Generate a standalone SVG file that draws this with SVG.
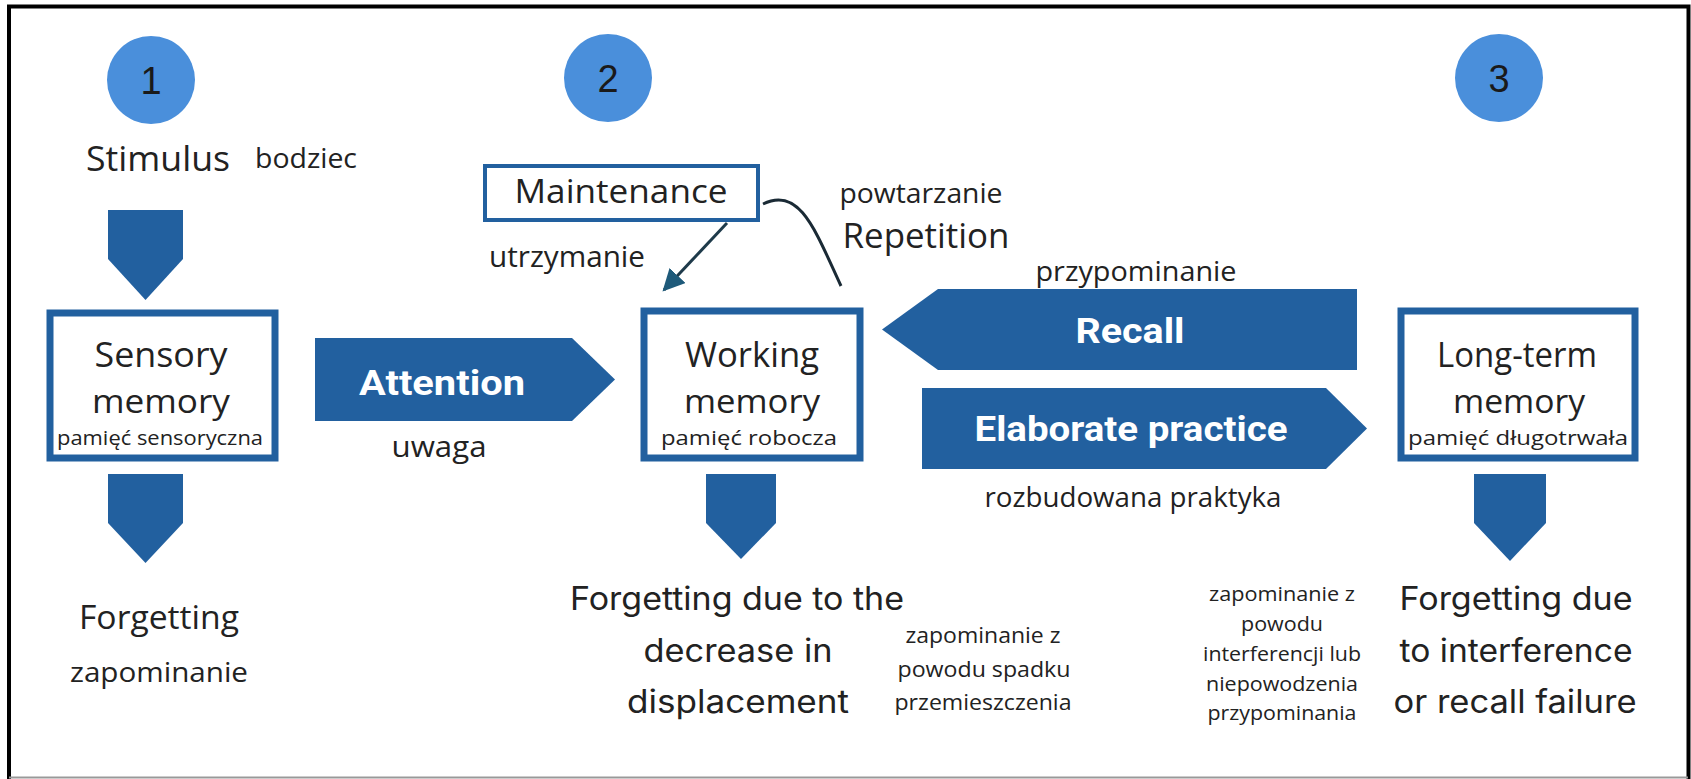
<svg xmlns="http://www.w3.org/2000/svg" width="1691" height="779" viewBox="0 0 1691 779">
<style>
.box{fill:#fff;stroke:#22609f;stroke-width:7}
.blk{fill:#22609f}
.circ{fill:#4a8fdb}
.num{font-family:"Liberation Sans",Arial,sans-serif;font-size:38px;fill:#1a1a1a;text-anchor:middle}
.t{font-family:"Open Sans","Noto Sans",sans-serif;fill:#222;text-anchor:middle}
.f{font-family:Inter,"Liberation Sans",sans-serif;fill:#222;text-anchor:middle}
.w{font-family:Roboto,"Liberation Sans",sans-serif;font-weight:bold;fill:#fff;text-anchor:middle}
</style>
<defs>
<marker id="ah" viewBox="0 0 10 10" refX="9" refY="5" markerWidth="22" markerHeight="22" orient="auto" markerUnits="userSpaceOnUse">
<path d="M0,0 L10,5 L0,10 z" fill="#1e5a7a"/>
</marker>
</defs>
<rect x="0" y="0" width="1691" height="779" fill="#fff"/>
<path d="M9,779 V6.5 H1688.5 V779" fill="none" stroke="#000" stroke-width="4"/>
<line x1="9" y1="777.5" x2="1688" y2="777.5" stroke="#999" stroke-width="2"/>

<g id="circle1"><circle class="circ" cx="151" cy="80" r="44"/><text class="num" x="151" y="94">1</text></g>
<g id="circle2"><circle class="circ" cx="608" cy="78" r="44"/><text class="num" x="608" y="92">2</text></g>
<g id="circle3"><circle class="circ" cx="1499" cy="78" r="44"/><text class="num" x="1499" y="92">3</text></g>

<g id="stimulus">
<text class="t" x="158" y="170.5" font-size="35" textLength="144" lengthAdjust="spacingAndGlyphs">Stimulus</text>
<text class="t" x="306" y="168" font-size="27" textLength="102" lengthAdjust="spacingAndGlyphs">bodziec</text>
</g>

<g id="sensory">
<rect class="box" x="50" y="313" width="225" height="145"/>
<text class="t" x="161" y="366.5" font-size="35" textLength="133" lengthAdjust="spacingAndGlyphs">Sensory</text>
<text class="t" x="161" y="413" font-size="33" textLength="138" lengthAdjust="spacingAndGlyphs">memory</text>
<text class="t" x="160" y="445" font-size="20" textLength="206" lengthAdjust="spacingAndGlyphs">pamięć sensoryczna</text>
</g>

<g id="maintenance">
<rect x="485" y="166" width="273" height="54" fill="#fff" stroke="#22609f" stroke-width="4"/>
<text class="t" x="621" y="203" font-size="33" textLength="213" lengthAdjust="spacingAndGlyphs">Maintenance</text>
</g>

<g id="working">
<rect class="box" x="644" y="311" width="216" height="147"/>
<text class="t" x="752" y="366.5" font-size="35" textLength="134" lengthAdjust="spacingAndGlyphs">Working</text>
<text class="t" x="752" y="413" font-size="33" textLength="136" lengthAdjust="spacingAndGlyphs">memory</text>
<text class="t" x="749" y="445" font-size="20" textLength="176" lengthAdjust="spacingAndGlyphs">pamięć robocza</text>
</g>

<g id="longterm">
<rect class="box" x="1401" y="311" width="234" height="147"/>
<text class="t" x="1517" y="366.5" font-size="35" textLength="160" lengthAdjust="spacingAndGlyphs">Long-term</text>
<text class="t" x="1519" y="413" font-size="33" textLength="132" lengthAdjust="spacingAndGlyphs">memory</text>
<text class="t" x="1518" y="445" font-size="20" textLength="220" lengthAdjust="spacingAndGlyphs">pamięć długotrwała</text>
</g>

<g id="forget1">
<text class="t" x="159" y="629" font-size="33" textLength="160" lengthAdjust="spacingAndGlyphs">Forgetting</text>
<text class="t" x="159" y="681.5" font-size="28" textLength="178" lengthAdjust="spacingAndGlyphs">zapominanie</text>
</g>

<g id="forget2">
<text class="f" x="737" y="610" font-size="32" textLength="334" lengthAdjust="spacingAndGlyphs">Forgetting due to the</text>
<text class="f" x="738" y="662" font-size="32" textLength="189" lengthAdjust="spacingAndGlyphs">decrease in</text>
<text class="f" x="738" y="713" font-size="32" textLength="222" lengthAdjust="spacingAndGlyphs">displacement</text>
<text class="t" x="983" y="643" font-size="22" textLength="155" lengthAdjust="spacingAndGlyphs">zapominanie z</text>
<text class="t" x="984" y="677" font-size="22" textLength="173" lengthAdjust="spacingAndGlyphs">powodu spadku</text>
<text class="t" x="983" y="710" font-size="22" textLength="177" lengthAdjust="spacingAndGlyphs">przemieszczenia</text>
</g>

<g id="forget3">
<text class="f" x="1516" y="610" font-size="32" textLength="233" lengthAdjust="spacingAndGlyphs">Forgetting due</text>
<text class="f" x="1516" y="662" font-size="32" textLength="233" lengthAdjust="spacingAndGlyphs">to interference</text>
<text class="f" x="1515" y="713" font-size="32" textLength="243" lengthAdjust="spacingAndGlyphs">or recall failure</text>
<text class="t" x="1282" y="601" font-size="20" textLength="146" lengthAdjust="spacingAndGlyphs">zapominanie z</text>
<text class="t" x="1282" y="631" font-size="20" textLength="82" lengthAdjust="spacingAndGlyphs">powodu</text>
<text class="t" x="1282" y="661" font-size="20" textLength="158" lengthAdjust="spacingAndGlyphs">interferencji lub</text>
<text class="t" x="1282" y="691" font-size="20" textLength="152" lengthAdjust="spacingAndGlyphs">niepowodzenia</text>
<text class="t" x="1282" y="720" font-size="20" textLength="149" lengthAdjust="spacingAndGlyphs">przypominania</text>
</g>

<g id="connectors">
<polygon class="blk" points="108,210 183,210 183,259 145.5,300 108,259"/>
<polygon class="blk" points="108,474 183,474 183,523 145.5,563 108,523"/>
<polygon class="blk" points="706,474 776,474 776,523 741,559 706,523"/>
<polygon class="blk" points="1474,474 1546,474 1546,523 1510,561 1474,523"/>
<polygon class="blk" points="315,338 572,338 615,379.5 572,421 315,421"/>
<polygon class="blk" points="1357,289 938,289 882,329.5 938,370 1357,370"/>
<polygon class="blk" points="922,388 1326,388 1367,428.5 1326,469 922,469"/>
<line x1="727" y1="223" x2="664" y2="290" stroke="#1e3a4a" stroke-width="3" marker-end="url(#ah)"/>
<path d="M763,204 C800,186 815,230 841,286" fill="none" stroke="#1a2a35" stroke-width="3"/>
</g>

<g id="labels">
<text class="w" x="442" y="395" font-size="35" textLength="166" lengthAdjust="spacingAndGlyphs">Attention</text>
<text class="t" x="439" y="457" font-size="30" textLength="95" lengthAdjust="spacingAndGlyphs">uwaga</text>
<text class="t" x="567" y="266.5" font-size="29" textLength="156" lengthAdjust="spacingAndGlyphs">utrzymanie</text>
<text class="t" x="921" y="203" font-size="28" textLength="163" lengthAdjust="spacingAndGlyphs">powtarzanie</text>
<text class="t" x="926" y="247.5" font-size="34" textLength="167" lengthAdjust="spacingAndGlyphs">Repetition</text>
<text class="t" x="1136" y="281" font-size="28" textLength="201" lengthAdjust="spacingAndGlyphs">przypominanie</text>
<text class="w" x="1130" y="343" font-size="35" textLength="109" lengthAdjust="spacingAndGlyphs">Recall</text>
<text class="w" x="1131" y="441" font-size="35" textLength="313" lengthAdjust="spacingAndGlyphs">Elaborate practice</text>
<text class="t" x="1133" y="507" font-size="27" textLength="297" lengthAdjust="spacingAndGlyphs">rozbudowana praktyka</text>
</g>
</svg>
